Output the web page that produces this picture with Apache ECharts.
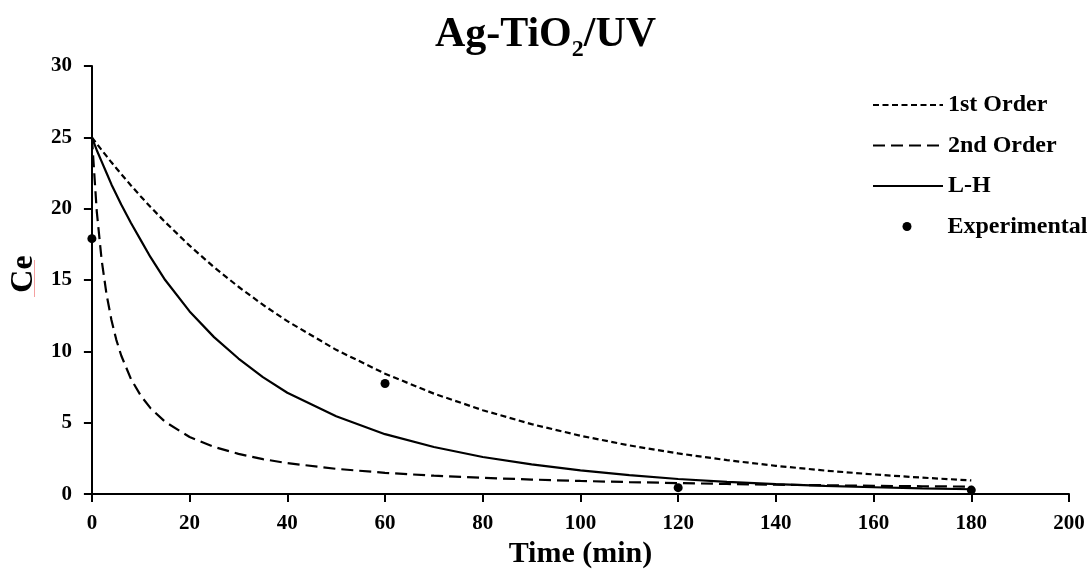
<!DOCTYPE html>
<html>
<head>
<meta charset="utf-8">
<script src="https://cdn.jsdelivr.net/npm/echarts@6/dist/echarts.min.js"></script>
<style>
html,body{margin:0;padding:0;background:#fff;}
#c{width:1091px;height:574px;}
</style>
</head>
<body>
<div id="c"></div>
<script>
// ---- data ----
var timeModel = [0,1,2,3,4,5,6,8,10,12,15,20,25,30,35,40,50,60,70,80,90,100,110,120,130,140,150,160,170,180];
var firstOrder = [25,24.55,24.11,23.68,23.25,22.84,22.43,21.63,20.86,20.12,19.06,17.41,15.90,14.53,13.27,12.12,10.11,8.44,7.04,5.88,4.90,4.09,3.41,2.85,2.38,1.98,1.65,1.38,1.15,0.96];
var secondOrder = [25,19.80,16.39,13.99,12.20,10.81,9.71,8.06,6.90,6.02,5.06,4.00,3.31,2.82,2.45,2.17,1.77,1.49,1.29,1.14,1.02,0.92,0.84,0.77,0.71,0.66,0.62,0.58,0.55,0.52];
var lhModel = [25,24.1,23.3,22.5,21.7,21.0,20.3,19.0,17.8,16.6,15.0,12.8,11.0,9.5,8.2,7.1,5.45,4.2,3.3,2.6,2.08,1.66,1.33,1.06,0.86,0.70,0.57,0.48,0.40,0.34];
var timeExp = [0,60,120,180];
var ceExp = [17.9,7.75,0.45,0.28];
var xTicks = {min:0, max:200, interval:20};
var yTicks = {min:0, max:30, interval:5};
var seriesNames = ['1st Order','2nd Order','L-H','Experimental'];

function pairs(xs, ys){ return xs.map(function(x,i){ return [x, ys[i]]; }); }

var FONT = "'Liberation Serif','Times New Roman',serif";
var chart = echarts.init(document.getElementById('c'), null, {renderer:'canvas'});

var axisCommon = {
  axisLine:{show:true, lineStyle:{color:'#000', width:2}},
  axisTick:{show:true, inside:false, length:8, lineStyle:{color:'#000', width:2}},
  splitLine:{show:false},
  axisLabel:{color:'#000', fontFamily:FONT, fontWeight:'bold', fontSize:21}
};
var legendText = {fontFamily:FONT, fontWeight:'bold', fontSize:24, color:'#000'};

chart.setOption({
  animation:false,
  backgroundColor:'#fff',
  title:{
    text:'{a|Ag-TiO}{s|2}{a|/UV}',
    left:'center', top:14, padding:0,
    textStyle:{
      rich:{
        a:{fontFamily:FONT, fontWeight:'bold', fontSize:42, color:'#000', lineHeight:42},
        s:{fontFamily:FONT, fontWeight:'bold', fontSize:24, color:'#000', lineHeight:24, padding:[30,0,0,0]}
      }
    }
  },
  grid:{left:81, right:22, top:66, bottom:71, containLabel:false},
  legend:[{
    data:seriesNames.slice(0,3),
    orient:'vertical', left:872, top:93, padding:0,
    itemWidth:70, itemHeight:14, itemGap:16.5,
    itemStyle:{opacity:0},
    textStyle:legendText
  },{
    data:[seriesNames[3]],
    orient:'vertical', left:902.5, top:214.5, padding:0,
    itemWidth:9, itemHeight:9,
    itemStyle:{opacity:1},
    textStyle:Object.assign({}, legendText, {padding:[0,0,0,31]})
  }],
  xAxis:Object.assign({}, axisCommon, {
    type:'value', min:xTicks.min, max:xTicks.max, interval:xTicks.interval,
    name:'Time (min)', nameLocation:'middle', nameGap:36,
    nameTextStyle:{fontFamily:FONT, fontWeight:'bold', fontSize:30, color:'#000'},
    axisLabel:Object.assign({}, axisCommon.axisLabel, {margin:19})
  }),
  yAxis:Object.assign({}, axisCommon, {
    type:'value', min:yTicks.min, max:yTicks.max, interval:yTicks.interval,
    name:'Ce', nameLocation:'middle', nameGap:40,
    nameTextStyle:{fontFamily:FONT, fontWeight:'bold', fontSize:32, color:'#000', padding:[0,0,0,12]},
    axisLabel:Object.assign({}, axisCommon.axisLabel, {margin:20})
  }),
  graphic:[{
    type:'line', silent:true,
    shape:{x1:34.5, y1:260, x2:34.5, y2:297},
    style:{stroke:'#f4a0a0', lineWidth:1}
  }],
  series:[{
    name:seriesNames[0], type:'line', symbol:'none', showSymbol:false,
    data:pairs(timeModel, firstOrder),
    lineStyle:{color:'#000', width:2.2, type:[6,3.5]}, itemStyle:{color:'#000'}
  },{
    name:seriesNames[1], type:'line', symbol:'none', showSymbol:false,
    data:pairs(timeModel, secondOrder),
    lineStyle:{color:'#000', width:2.2, type:[12,6]}, itemStyle:{color:'#000'}
  },{
    name:seriesNames[2], type:'line', symbol:'none', showSymbol:false,
    data:pairs(timeModel, lhModel),
    lineStyle:{color:'#000', width:2.2, type:'solid'}, itemStyle:{color:'#000'}
  },{
    name:seriesNames[3], type:'scatter', symbol:'circle', symbolSize:9,
    data:pairs(timeExp, ceExp),
    itemStyle:{color:'#000', opacity:1}, z:5
  }]
});
</script>
</body>
</html>
